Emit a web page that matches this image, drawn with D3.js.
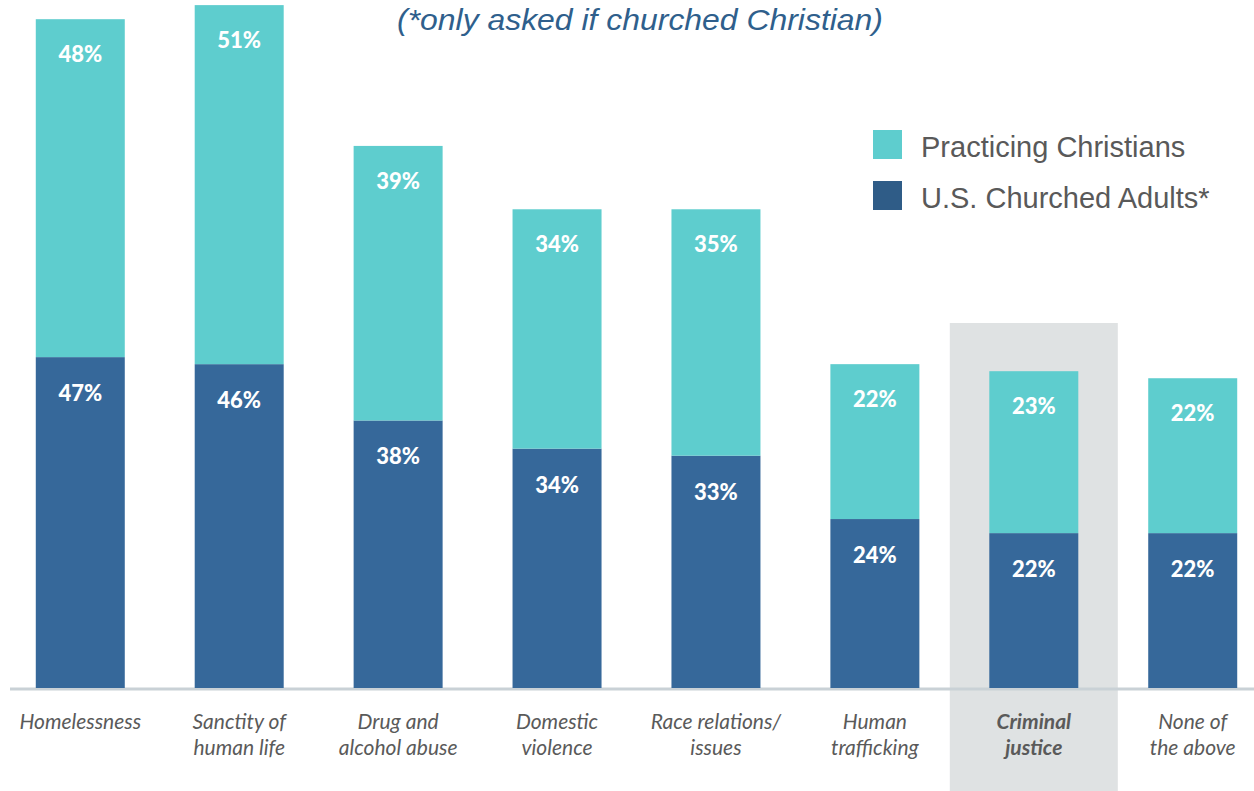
<!DOCTYPE html>
<html><head><meta charset="utf-8">
<script src="https://cdn.jsdelivr.net/npm/d3@7"></script>
<style>body{margin:0;background:#fff}svg{display:block}</style>
</head><body>
<svg id="c" width="1254" height="791"></svg>
<script>
const categories = ["Homelessness","Sanctity of human life","Drug and alcohol abuse","Domestic violence","Race relations/ issues","Human trafficking","Criminal justice","None of the above"];
const labelLines = [["Homelessness"],["Sanctity of","human life"],["Drug and","alcohol abuse"],["Domestic","violence"],["Race relations/","issues"],["Human","trafficking"],["Criminal","justice"],["None of","the above"]];
const churchedAdults = [47,46,38,34,33,24,22,22];
const practicingChristians = [48,51,39,34,35,22,23,22];
const seriesNames = ["Practicing Christians","U.S. Churched Adults*"];
const highlighted = "Criminal justice";

const svg = d3.select("#c");
const baseY = 688;
const x = d3.scaleBand().domain(categories).range([4, 1269]).paddingInner(0.44).paddingOuter(0.2);
const y = d3.scaleLinear().domain([0,100]).range([baseY, baseY - 704]);
const teal = "#5ECDCE", dark = "#36689A";

// highlight
const hc = highlighted;
svg.append("rect").attr("x", x(hc) + x.bandwidth()/2 - 84).attr("y", 323)
  .attr("width", 168).attr("height", 791-323).attr("fill", "#DFE2E3");

// baseline
svg.append("line").attr("x1", 10).attr("x2", 1254).attr("y1", baseY+1).attr("y2", baseY+1)
  .attr("stroke", "#C9D1D6").attr("stroke-width", 3);

const g = svg.append("g");
categories.forEach((c,i) => {
  const a = churchedAdults[i], p = practicingChristians[i];
  g.append("rect").attr("x", x(c)).attr("width", x.bandwidth())
    .attr("y", y(a)).attr("height", y(0)-y(a)).attr("fill", dark);
  g.append("rect").attr("x", x(c)).attr("width", x.bandwidth())
    .attr("y", y(a+p)).attr("height", y(a)-y(a+p)).attr("fill", teal);
  const cx = x(c) + x.bandwidth()/2;
  g.append("text").attr("x", cx).attr("y", y(a)+44).attr("text-anchor","middle")
    .attr("fill","#fff").attr("font-family","Lato, 'Open Sans', sans-serif").attr("font-weight","900").attr("font-size",22)
    .text(a+"%");
  g.append("text").attr("x", cx).attr("y", y(a+p)+43).attr("text-anchor","middle")
    .attr("fill","#fff").attr("font-family","Lato, 'Open Sans', sans-serif").attr("font-weight","900").attr("font-size",22)
    .text(p+"%");
  const t = g.append("text").attr("text-anchor","middle").attr("fill","#5a5a5a")
    .attr("font-family","Lato, 'Open Sans', sans-serif").attr("font-style","italic").attr("font-size",21)
    .attr("font-weight", c===hc ? "bold" : "normal");
  labelLines[i].forEach((l,j) => t.append("tspan").attr("x", cx).attr("y", 729 + j*26).text(l));
});

// subtitle
svg.append("text").attr("x", 640).attr("y", 30).attr("text-anchor","middle")
  .attr("fill","#2F5F8C").attr("font-family","'Liberation Sans', Arial, sans-serif")
  .attr("font-style","italic").attr("font-size",30).attr("textLength",486).attr("lengthAdjust","spacingAndGlyphs")
  .text("(*only asked if churched Christian)");

// legend
const legColors = [teal, "#2F5C87"];
seriesNames.forEach((s,i) => {
  svg.append("rect").attr("x", 873).attr("y", 130 + i*51).attr("width", 29).attr("height", 29).attr("fill", legColors[i]);
  svg.append("text").attr("x", 921).attr("y", 157 + i*51).attr("fill","#595959")
    .attr("font-family","'Liberation Sans', Arial, sans-serif").attr("font-size",29).text(s);
});
</script>
</body></html>
